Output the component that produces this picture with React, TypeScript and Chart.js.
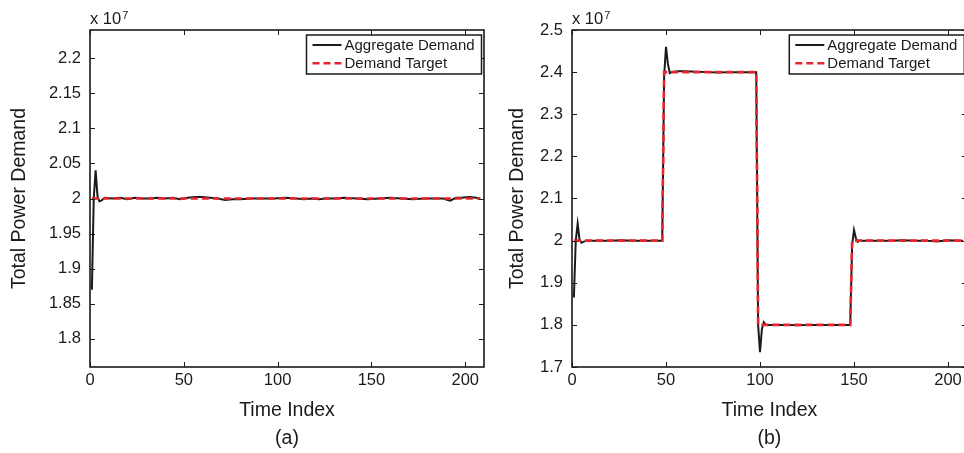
import React, { useEffect, useRef } from 'react';
import { Chart, registerables } from 'chart.js';
Chart.register(...registerables);

// ---------- data ----------
const xTickValues = [0, 50, 100, 150, 200];
const xRange = [0, 210];

const yTicksA = [1.8, 1.85, 1.9, 1.95, 2, 2.05, 2.1, 2.15, 2.2];
const yRangeA = [1.76, 2.24];
const yTicksB = [1.7, 1.8, 1.9, 2, 2.1, 2.2, 2.3, 2.4, 2.5];
const yRangeB = [1.7, 2.5];

// panel (a): aggregate demand (x 10^7)
const demandTimeA = [1, 2, 3, 4, 5, 6, 8, 12, 16, 20, 24, 28, 32, 36, 40, 44, 48, 52, 56, 60, 64, 68, 72, 76, 80, 86, 92, 98, 104, 110, 114, 118, 122, 126, 130, 136, 142, 148, 154, 160, 166, 172, 178, 184, 188, 192, 195, 198, 202, 206, 208];
const demandValueA = [1.87, 2.0, 2.04, 2.003, 1.996, 1.997, 2.001, 2.0, 2.001, 1.999, 2.001, 2.0, 2.0, 2.001, 2.0, 2.001, 1.999, 2.001, 2.002, 2.002, 2.001, 2.0, 1.998, 1.999, 1.999, 2.0, 2.0, 2.0, 2.001, 2.0, 1.999, 2.0, 1.999, 2.0, 2.0, 2.001, 2.0, 1.999, 2.0, 2.001, 2.0, 1.999, 2.0, 2.0, 2.0, 1.997, 2.001, 2.001, 2.002, 2.001, 2.0];
// panel (a): demand target
const targetTimeA = [1, 208];
const targetValueA = [2, 2];

// panel (b): aggregate demand
const demandTimeB = [1, 2, 3, 4, 5, 6, 8, 14, 20, 26, 32, 38, 44, 48, 49, 50, 51, 52, 53, 56, 60, 66, 72, 78, 84, 90, 96, 98, 99, 100, 101, 102, 103, 108, 114, 120, 126, 132, 138, 144, 148, 149, 150, 151, 152, 153, 158, 164, 170, 176, 182, 188, 194, 200, 206, 208];
const demandValueB = [1.865, 2.0, 2.04, 2.003, 1.995, 1.997, 2.0, 2.0, 2.0, 2.001, 2.0, 2.0, 2.0, 2.0, 2.39, 2.46, 2.42, 2.398, 2.4, 2.402, 2.402, 2.401, 2.4, 2.399, 2.4, 2.4, 2.4, 2.4, 1.8, 1.735, 1.79, 1.806, 1.8, 1.8, 1.8, 1.799, 1.8, 1.8, 1.8, 1.8, 1.8, 1.99, 2.025, 2.006, 1.997, 2.0, 2.0, 2.0, 2.0, 2.001, 2.0, 2.0, 1.998, 2.001, 2.0, 2.0];
// panel (b): demand target
const targetTimeB = [1, 48, 49, 98, 99, 148, 149, 208];
const targetValueB = [2, 2, 2.4, 2.4, 1.8, 1.8, 2, 2];

const legendLabels = ['Aggregate Demand', 'Demand Target'];
const xTitle = 'Time Index';
const yTitle = 'Total Power Demand';
const exponentBase = 'x 10';
const exponentPower = '7';

// ---------- styling ----------
const FONT = '"Liberation Sans", Arial, Helvetica, sans-serif';
const INK = '#1a1a1a';
const RED = '#e8242c';
const DASH = [7, 4];

function fmt(v: number) {
  return String(+v.toFixed(2));
}

function makeFrame(yTicks: number[]) {
  return {
    id: 'matlabFrame',
    afterDraw(chart: any) {
      const ctx = chart.ctx as CanvasRenderingContext2D;
      const a = chart.chartArea;
      const xs = chart.scales.x;
      const ys = chart.scales.y;
      ctx.save();
      // inner ticks
      ctx.strokeStyle = INK;
      ctx.lineWidth = 1;
      const tl = 5;
      ctx.beginPath();
      for (const v of xTickValues) {
        const px = Math.round(xs.getPixelForValue(v)) + 0.5;
        ctx.moveTo(px, a.bottom);
        ctx.lineTo(px, a.bottom - tl);
        ctx.moveTo(px, a.top);
        ctx.lineTo(px, a.top + tl);
      }
      for (const v of yTicks) {
        const py = Math.round(ys.getPixelForValue(v)) + 0.5;
        ctx.moveTo(a.left, py);
        ctx.lineTo(a.left + tl, py);
        ctx.moveTo(a.right, py);
        ctx.lineTo(a.right - tl, py);
      }
      ctx.stroke();
      // box
      ctx.lineWidth = 1.6;
      ctx.strokeRect(a.left, a.top, a.right - a.left, a.bottom - a.top);

      // exponent label
      ctx.fillStyle = INK;
      ctx.textAlign = 'left';
      ctx.textBaseline = 'alphabetic';
      ctx.font = `16.5px ${FONT}`;
      ctx.fillText(exponentBase, a.left, 23.5);
      const w = ctx.measureText(exponentBase).width;
      ctx.font = `11px ${FONT}`;
      ctx.fillText(exponentPower, a.left + w + 1, 18.5);

      // legend
      const bw = 175;
      const bh = 39;
      const bx = a.right - 2.5 - bw;
      const by = a.top + 5;
      ctx.fillStyle = '#ffffff';
      ctx.fillRect(bx, by, bw, bh);
      ctx.lineWidth = 1.5;
      ctx.strokeStyle = INK;
      ctx.strokeRect(bx, by, bw, bh);
      const rows = [
        { color: INK, dash: [] as number[], width: 2 },
        { color: RED, dash: DASH, width: 2.5 },
      ];
      ctx.font = `15px ${FONT}`;
      ctx.textBaseline = 'middle';
      rows.forEach((r, i) => {
        const ry = by + 10 + i * 18.3;
        ctx.beginPath();
        ctx.setLineDash(r.dash);
        ctx.strokeStyle = r.color;
        ctx.lineWidth = r.width;
        ctx.moveTo(bx + 6, ry);
        ctx.lineTo(bx + 35, ry);
        ctx.stroke();
        ctx.setLineDash([]);
        ctx.fillStyle = INK;
        ctx.fillText(legendLabels[i], bx + 38, ry + 0.5);
      });
      ctx.restore();
    },
  };
}

type PanelProps = {
  left: number;
  width: number;
  yAxisWidth: number;
  yTitlePad: number;
  padRight: number;
  yTicks: number[];
  yRange: number[];
  demandT: number[];
  demandV: number[];
  targetT: number[];
  targetV: number[];
  label: string;
};

function Panel(p: PanelProps) {
  const ref = useRef<HTMLCanvasElement | null>(null);
  useEffect(() => {
    if (!ref.current) return;
    const demand = p.demandT.map((t, i) => ({ x: t, y: p.demandV[i] }));
    const target = p.targetT.map((t, i) => ({ x: t, y: p.targetV[i] }));
    const chart = new Chart(ref.current, {
      type: 'line',
      data: {
        datasets: [
          {
            label: legendLabels[1],
            data: target,
            borderColor: RED,
            borderWidth: 2.6,
            borderDash: DASH,
            pointRadius: 0,
            tension: 0,
            order: 0,
          },
          {
            label: legendLabels[0],
            data: demand,
            borderColor: INK,
            borderWidth: 2,
            pointRadius: 0,
            tension: 0,
            order: 1,
          },
        ],
      },
      options: {
        responsive: false,
        animation: false,
        devicePixelRatio: 1,
        layout: { padding: { top: 30, right: p.padRight, bottom: 0, left: 0 } },
        plugins: { legend: { display: false }, tooltip: { enabled: false } },
        scales: {
          x: {
            type: 'linear',
            min: xRange[0],
            max: xRange[1],
            grid: { display: false, drawTicks: false },
            border: { display: false },
            afterBuildTicks: (s: any) => {
              s.ticks = xTickValues.map((v) => ({ value: v }));
            },
            afterFit: (s: any) => {
              s.height = 86;
            },
            ticks: {
              padding: 4,
              color: INK,
              font: { family: FONT, size: 16.5 },
              maxRotation: 0,
              callback: (v: any) => fmt(Number(v)),
            },
            title: {
              display: true,
              text: [xTitle, p.label],
              color: INK,
              font: { family: FONT, size: 19.5, lineHeight: 28 / 19.5 },
              padding: { top: 0, bottom: 0 },
            },
          },
          y: {
            type: 'linear',
            min: p.yRange[0],
            max: p.yRange[1],
            grid: { display: false, drawTicks: false },
            border: { display: false },
            afterBuildTicks: (s: any) => {
              s.ticks = p.yTicks.map((v) => ({ value: v }));
            },
            afterFit: (s: any) => {
              s.width = p.yAxisWidth;
            },
            ticks: {
              padding: 9,
              color: INK,
              font: { family: FONT, size: 16.5 },
              callback: (v: any) => fmt(Number(v)),
            },
            title: {
              display: true,
              text: yTitle,
              color: INK,
              font: { family: FONT, size: 19.5, lineHeight: 1.2 },
              padding: { top: p.yTitlePad, bottom: 0 },
            },
          },
        },
      } as any,
      plugins: [makeFrame(p.yTicks)],
    });
    return () => chart.destroy();
  }, []);
  return (
    <canvas
      ref={ref}
      width={p.width}
      height={453}
      style={{ position: 'absolute', left: p.left, top: 0, width: p.width, height: 453 }}
    />
  );
}

export default function App() {
  return (
    <div
      style={{
        position: 'fixed',
        left: 0,
        top: 0,
        width: 964,
        height: 453,
        overflow: 'hidden',
        background: '#ffffff',
      }}
    >
      <Panel
        left={0}
        width={490}
        yAxisWidth={90}
        yTitlePad={7.8}
        padRight={6}
        yTicks={yTicksA}
        yRange={yRangeA}
        demandT={demandTimeA}
        demandV={demandValueA}
        targetT={targetTimeA}
        targetV={targetValueA}
        label="(a)"
      />
      <Panel
        left={490}
        width={480}
        yAxisWidth={82}
        yTitlePad={16.3}
        padRight={3.2}
        yTicks={yTicksB}
        yRange={yRangeB}
        demandT={demandTimeB}
        demandV={demandValueB}
        targetT={targetTimeB}
        targetV={targetValueB}
        label="(b)"
      />
    </div>
  );
}
